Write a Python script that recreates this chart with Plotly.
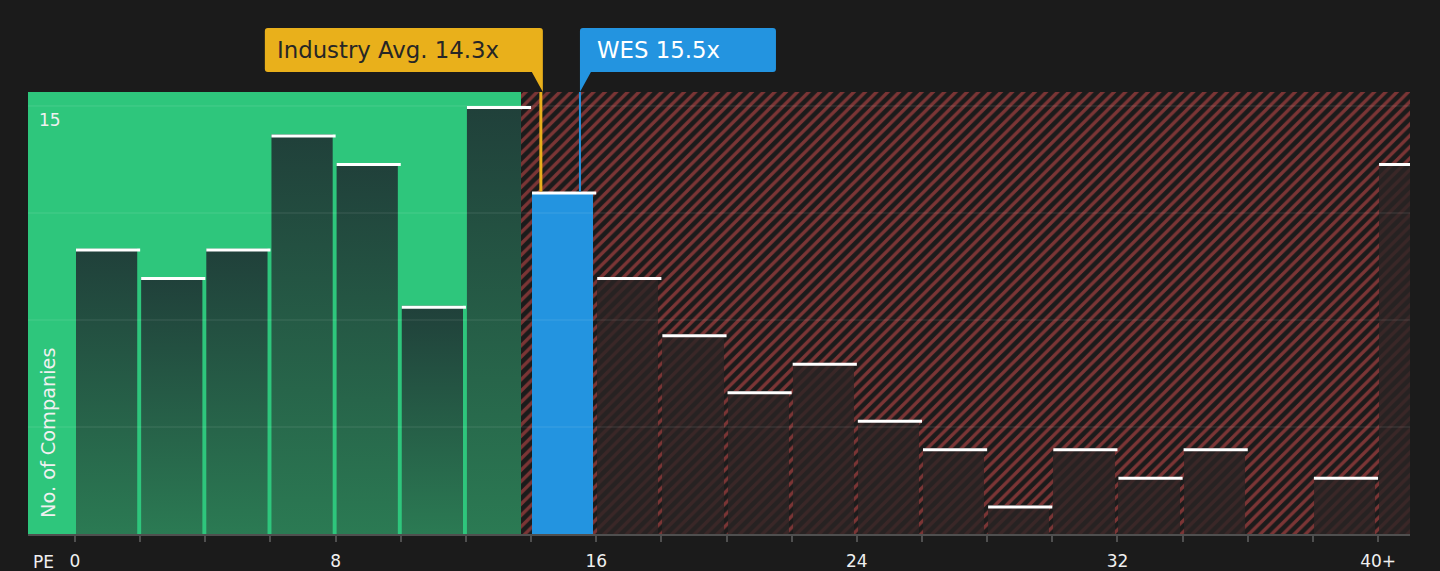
import plotly.graph_objects as go

# PE histogram data (bins of width 2, last bin is 40+)
bin_start = [0, 2, 4, 6, 8, 10, 12, 14, 16, 18, 20, 22, 24, 26, 28, 30, 32, 34, 36, 38, 40]
counts = [10, 9, 10, 14, 13, 8, 15, 12, 9, 7, 5, 6, 4, 3, 1, 3, 2, 3, 0, 2, 13]
tick_vals = [0, 2, 4, 6, 8, 10, 12, 14, 16, 18, 20, 22, 24, 26, 28, 30, 32, 34, 36, 38, 40]
tick_text = ["0", "", "", "", "8", "", "", "", "16", "", "", "", "24", "", "", "", "32", "", "", "", "40+"]
y_grid = [3.75, 7.5, 11.25, 15]

industry_avg = 14.3
company = "WES"
company_pe = 15.5
fair_split = 13.69   # end of green (good value) zone

X_RANGE = [-1.443, 40.98]
Y_RANGE = [0, 15.49]

BG = "#1b1b1b"
GREEN = "#2ec67c"
YELLOW = "#e9b01b"
BLUE = "#2394e0"
RED = "#dc5050"
FONT = "DejaVu Sans"

BAR_OFF = 0.03
BAR_W = 1.88
CAP_W = 1.97
CAP_Y = 0.05

fig = go.Figure()

# background zones
fig.add_trace(go.Bar(x=[(X_RANGE[0] + fair_split) / 2], y=[Y_RANGE[1]],
                     width=[fair_split - X_RANGE[0]], marker=dict(color=GREEN, line_width=0),
                     hoverinfo="skip", showlegend=False))
fig.add_trace(go.Bar(x=[(fair_split + X_RANGE[1]) / 2], y=[Y_RANGE[1]],
                     width=[X_RANGE[1] - fair_split],
                     marker=dict(color=BG, line_width=0,
                                 pattern=dict(shape="/", fgcolor=RED, bgcolor=BG,
                                              size=8, solidity=0.42)),
                     hoverinfo="skip", showlegend=False))

company_bin = max(b for b in bin_start if b <= company_pe)
company_count = counts[bin_start.index(company_bin)]

red_x, red_y = [], []
for b, c in zip(bin_start, counts):
    if b < fair_split:
        # green zone bars with vertical gradient, clipped at the zone edge
        x0, x1 = b + BAR_OFF, min(b + BAR_OFF + BAR_W, fair_split)
        fig.add_trace(go.Scatter(
            x=[x0, x1, x1, x0, x0], y=[0, 0, c, c, 0], mode="lines",
            line=dict(width=0), fill="toself",
            fillgradient=dict(type="vertical",
                              colorscale=[[0, "#2b7a53"], [1, "#20403a"]]),
            hoverinfo="skip", showlegend=False))
    elif b != company_bin:
        red_x.append(b)
        red_y.append(c)

fig.add_trace(go.Bar(x=red_x, y=red_y, offset=BAR_OFF, width=BAR_W,
                     marker=dict(color="rgba(42,36,36,0.8)", line_width=0),
                     hoverinfo="skip", showlegend=False))
fig.add_trace(go.Bar(x=[company_bin], y=[company_count], offset=BAR_OFF, width=BAR_W,
                     marker=dict(color=BLUE, line_width=0),
                     hoverinfo="skip", showlegend=False))

# white caps on top of each bar
cap_x, cap_y = [], []
for b, c in zip(bin_start, counts):
    if c > 0:
        cap_x += [b + BAR_OFF, b + BAR_OFF + CAP_W, None]
        cap_y += [c - CAP_Y, c - CAP_Y, None]
fig.add_trace(go.Scatter(x=cap_x, y=cap_y, mode="lines", line=dict(color="#ffffff", width=3),
                         hoverinfo="skip", showlegend=False))

shapes = []
for g in y_grid:
    shapes.append(dict(type="line", xref="paper", yref="y", x0=0, x1=1, y0=g, y1=g,
                       line=dict(color="rgba(255,255,255,0.12)", width=1), layer="above"))

# marker lines
shapes.append(dict(type="line", xref="x", yref="y", x0=industry_avg, x1=industry_avg,
                   y0=company_count, y1=Y_RANGE[1], line=dict(color=YELLOW, width=3), layer="above"))
shapes.append(dict(type="line", xref="x", yref="y", x0=company_pe, x1=company_pe,
                   y0=company_count, y1=Y_RANGE[1], line=dict(color=BLUE, width=2), layer="above"))

# callout boxes (pixel sized, anchored to values)
r = 3
L, R, T, B = -276, 2, 64, 20
yellow_path = (f"M {L+r},{T} H {R-r} Q {R},{T} {R},{T-r} V 0 L -9,{B} H {L+r} "
               f"Q {L},{B} {L},{B+r} V {T-r} Q {L},{T} {L+r},{T} Z")
shapes.append(dict(type="path", xref="x", yref="paper", xsizemode="pixel", ysizemode="pixel",
                   xanchor=industry_avg, yanchor=1, path=yellow_path,
                   fillcolor=YELLOW, line=dict(width=0), layer="above"))
L, R = 0, 196
blue_path = (f"M {L+r},{T} H {R-r} Q {R},{T} {R},{T-r} V {B+r} Q {R},{B} {R-r},{B} "
             f"H 11 L 0,0 V {T-r} Q 0,{T} {r},{T} Z")
shapes.append(dict(type="path", xref="x", yref="paper", xsizemode="pixel", ysizemode="pixel",
                   xanchor=company_pe, yanchor=1, path=blue_path,
                   fillcolor=BLUE, line=dict(width=0), layer="above"))

annotations = [
    dict(x=industry_avg, xref="x", xanchor="left", xshift=-266, y=1, yref="paper",
         yanchor="middle", yshift=42, text=f"Industry Avg. {industry_avg}x", showarrow=False,
         font=dict(family=FONT, size=22.8, color="#262626")),
    dict(x=company_pe, xref="x", xanchor="left", xshift=15, y=1, yref="paper",
         yanchor="middle", yshift=42, text=f"{company} {company_pe}x", showarrow=False,
         font=dict(family=FONT, size=22.8, color="#ffffff")),
    dict(x=0, xref="paper", xanchor="left", xshift=9, y=15, yref="y", yanchor="middle",
         yshift=-14, text="15", showarrow=False, font=dict(family=FONT, size=17, color="#f0f0f0")),
    dict(x=0, xref="paper", xanchor="center", xshift=20, y=0, yref="paper", yanchor="bottom",
         yshift=14, text="No. of Companies", textangle=-90, showarrow=False,
         font=dict(family=FONT, size=19.3, color="#f0f0f0")),
    dict(x=0, xref="paper", xanchor="left", xshift=3, y=0, yref="paper", yanchor="middle",
         yshift=-28, text="PE", showarrow=False, font=dict(family=FONT, size=17, color="#f0f0f0")),
]

fig.update_layout(
    width=1440, height=571,
    paper_bgcolor=BG, plot_bgcolor=BG,
    margin=dict(l=28, r=30, t=92, b=37),
    barmode="overlay", bargap=0,
    shapes=shapes, annotations=annotations,
    font=dict(family=FONT, color="#f0f0f0"),
    xaxis=dict(range=X_RANGE, tickvals=tick_vals, ticktext=tick_text, showgrid=False,
               zeroline=False, showline=True, linecolor="#4f4f4f", linewidth=2,
               ticks="outside", ticklen=6, tickwidth=2, tickcolor="#4f4f4f", automargin=False,
               tickfont=dict(family=FONT, size=17, color="#f0f0f0"), ticklabelstandoff=5),
    yaxis=dict(range=Y_RANGE, showgrid=False, zeroline=False, showticklabels=False,
               automargin=False),
)

fig.write_html("out.html", config={"displayModeBar": False},
               post_script="document.body.style.margin='0';document.body.style.overflow='hidden';")
